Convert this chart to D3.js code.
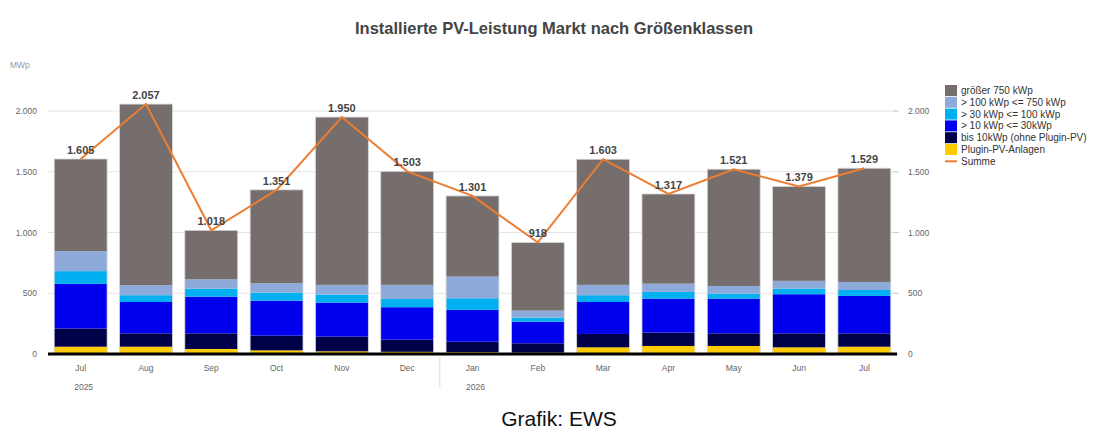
<!DOCTYPE html>
<html><head><meta charset="utf-8">
<script src="https://cdn.jsdelivr.net/npm/d3@7"></script>
<style>
body{margin:0;background:#fff;}
svg{display:block;font-family:"Liberation Sans",Arial,sans-serif;}
</style></head>
<body><svg id="c" width="1100" height="445"></svg>
<script>
const months = ["Jul","Aug","Sep","Oct","Nov","Dec","Jan","Feb","Mar","Apr","May","Jun","Jul"];
const years  = ["2025","2025","2025","2025","2025","2025","2026","2026","2026","2026","2026","2026","2026"];
const plugin   = [60, 60, 41, 30, 22, 18, 15, 12, 55, 66, 66, 55, 60];
const bis10    = [150,110,129,121,121,100,86, 76, 110,110,104,115,110];
const kw10_30  = [367,258,302,288,280,267,262,178,263,280,286,322,308];
const kw30_100 = [105,56, 66, 66, 66, 68, 96, 33, 56, 55, 41, 46, 49];
const kw100_750= [165,82, 77, 77, 80, 116,178,58, 85, 68, 63, 64, 66];
const summe    = [1605,2057,1018,1351,1950,1503,1301,918,1603,1317,1521,1379,1529];
const yTicks   = [0,500,1000,1500,2000];
const seriesNames = ["Plugin-PV-Anlagen","bis 10kWp (ohne Plugin-PV)","> 10 kWp <= 30kWp","> 30 kWp <= 100 kWp","> 100 kWp <= 750 kWp","größer 750 kWp"];
const seriesColors = ["#ffcc00","#000048","#0000ee","#00b0f0","#8eaadb","#766e6c"];
const sumColor = "#ed7d31";

// größer 750 = Summe minus the other classes
const gt750 = summe.map((s,i)=> s - plugin[i]-bis10[i]-kw10_30[i]-kw30_100[i]-kw100_750[i]);
const seriesVals = [plugin,bis10,kw10_30,kw30_100,kw100_750,gt750];

const keys = months.map((m,i)=>m+" "+years[i]);
const rows = keys.map((k,i)=>{const r={key:k};seriesNames.forEach((n,j)=>r[n]=seriesVals[j][i]);return r;});

const svg = d3.select("#c");
const L=48, R=897, B=354, T=111;
const x = d3.scaleBand().domain(keys).range([L,R]).paddingInner(0.19).paddingOuter(0.095);
const y = d3.scaleLinear().domain([0,2000]).range([B,T]);
const loc = d3.formatLocale({decimal:",",thousands:".",grouping:[3],currency:["","€"]});
const fmt = loc.format(",d");

// title
svg.append("text").attr("x",554).attr("y",34).attr("text-anchor","middle")
  .attr("font-size",16.5).attr("font-weight","bold").attr("fill","#444")
  .text("Installierte PV-Leistung Markt nach Größenklassen");
svg.append("text").attr("x",10).attr("y",68).attr("font-size",8.5).attr("fill","#999").text("MWp");

// grid
svg.append("g").selectAll("line").data(yTicks.filter(t=>t>0)).join("line")
  .attr("x1",L).attr("x2",R).attr("y1",d=>y(d)).attr("y2",d=>y(d))
  .attr("stroke","#e3e3e3").attr("stroke-width",1);

// left axis labels
svg.append("g").selectAll("text").data(yTicks).join("text")
  .attr("x",37).attr("y",d=>y(d)+3).attr("text-anchor","end")
  .attr("font-size",8.5).attr("fill","#666").text(d=>fmt(d));
// right axis
svg.append("g").selectAll("line").data(yTicks).join("line")
  .attr("x1",R-4).attr("x2",R+2).attr("y1",d=>y(d)).attr("y2",d=>y(d)).attr("stroke","#ccc");
svg.append("g").selectAll("text").data(yTicks).join("text")
  .attr("x",908).attr("y",d=>y(d)+3).attr("text-anchor","start")
  .attr("font-size",8.5).attr("fill","#666").text(d=>fmt(d));

// stacked bars
const stack = d3.stack().keys(seriesNames)(rows);
svg.append("g").selectAll("g").data(stack).join("g")
  .attr("fill",(d,i)=>seriesColors[i])
  .selectAll("rect").data(d=>d).join("rect")
  .attr("x",d=>x(d.data.key)).attr("width",x.bandwidth())
  .attr("y",d=>y(d[1])).attr("height",d=>y(d[0])-y(d[1]));
// faint outline
svg.append("g").selectAll("rect").data(rows).join("rect")
  .attr("x",d=>x(d.key)).attr("width",x.bandwidth())
  .attr("y",(d,i)=>y(summe[i])).attr("height",(d,i)=>y(0)-y(summe[i]))
  .attr("fill","none").attr("stroke","#d8d8d8").attr("stroke-width",0.8);

// baseline
svg.append("line").attr("x1",L).attr("x2",R).attr("y1",y(0)).attr("y2",y(0))
  .attr("stroke","#000").attr("stroke-width",3);

// month labels
svg.append("g").selectAll("text").data(keys).join("text")
  .attr("x",d=>x(d)+x.bandwidth()/2).attr("y",371).attr("text-anchor","middle")
  .attr("font-size",8.5).attr("fill","#666").text((d,i)=>months[i]);
// year labels
const yearStarts = keys.map((k,i)=>i).filter(i=>i===0||years[i]!==years[i-1]);
svg.append("g").selectAll("text").data(yearStarts).join("text")
  .attr("x",i=>x(keys[i])+x.bandwidth()/2+3).attr("y",390).attr("text-anchor","middle")
  .attr("font-size",8.5).attr("fill","#666").text(i=>years[i]);
svg.append("g").selectAll("line").data(yearStarts.filter(i=>i>0)).join("line")
  .attr("x1",i=>x(keys[i])-x.step()*x.paddingInner()/2).attr("x2",i=>x(keys[i])-x.step()*x.paddingInner()/2)
  .attr("y1",357).attr("y2",388).attr("stroke","#ddd");

// Summe line
const line = d3.line().x((d,i)=>x(keys[i])+x.bandwidth()/2).y(d=>y(d));
svg.append("path").datum(summe).attr("d",line).attr("fill","none")
  .attr("stroke",sumColor).attr("stroke-width",2);
svg.append("g").selectAll("text").data(summe).join("text")
  .attr("x",(d,i)=>x(keys[i])+x.bandwidth()/2).attr("y",d=>y(d)-5)
  .attr("text-anchor","middle").attr("font-size",11).attr("font-weight","bold")
  .attr("fill","#444").text(d=>fmt(d));

// legend
const legItems = seriesNames.map((n,i)=>({n,c:seriesColors[i]})).reverse();
const lg = svg.append("g").attr("transform","translate(945,85)");
legItems.forEach((d,i)=>{
  lg.append("rect").attr("x",0).attr("y",i*11.8).attr("width",12).attr("height",11).attr("fill",d.c);
  lg.append("text").attr("x",16).attr("y",i*11.8+9).attr("font-size",10).attr("fill","#333").text(d.n);
});
const si = legItems.length;
lg.append("line").attr("x1",0).attr("x2",12).attr("y1",si*11.8+5.5).attr("y2",si*11.8+5.5)
  .attr("stroke",sumColor).attr("stroke-width",2);
lg.append("text").attr("x",16).attr("y",si*11.8+9).attr("font-size",10).attr("fill","#333").text("Summe");

// footer
svg.append("text").attr("x",559).attr("y",426).attr("text-anchor","middle")
  .attr("font-size",21).attr("fill","#111").text("Grafik: EWS");
</script></body></html>
